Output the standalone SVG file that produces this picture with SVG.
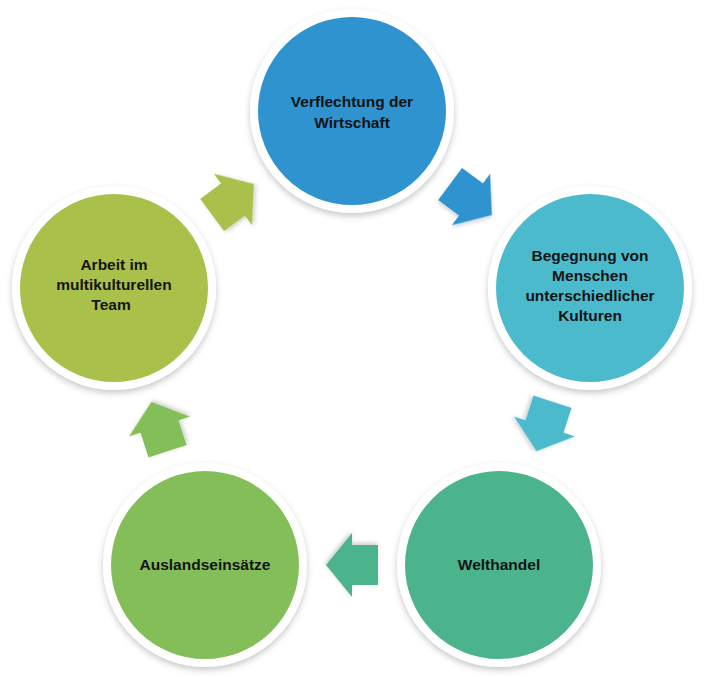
<svg xmlns="http://www.w3.org/2000/svg" width="709" height="696" viewBox="0 0 709 696">
<defs>
<filter id="sh" x="-20%" y="-20%" width="140%" height="150%">
<feDropShadow dx="0" dy="3" stdDeviation="3" flood-color="#000" flood-opacity="0.22"/>
</filter>
<filter id="ash" x="-30%" y="-30%" width="160%" height="160%">
<feDropShadow dx="1" dy="2" stdDeviation="2" flood-color="#000" flood-opacity="0.2"/>
</filter>
<path id="arrow" d="M-26,-20 L0,-20 L0,-32 L26,0 L0,32 L0,20 L-26,20 Z"/>
</defs>
<style>
.ring{stroke:#fff;stroke-width:8;filter:url(#sh)}
.lbl{font-family:"Liberation Sans",Arial,sans-serif;font-weight:bold;font-size:15.5px;fill:#141414;text-anchor:middle}
.arr{filter:url(#ash)}
</style>
<rect width="709" height="696" fill="#fff"/>
<g id="connectors">
<use href="#arrow" class="arr" fill="#2e93cf" transform="translate(471,199.5) rotate(36.6)"/>
<use href="#arrow" class="arr" fill="#4bbacc" transform="translate(544.5,426.5) rotate(108)"/>
<use href="#arrow" class="arr" fill="#4cb48d" transform="translate(352,565) rotate(180)"/>
<use href="#arrow" class="arr" fill="#84be58" transform="translate(159.5,426.5) rotate(252)"/>
<use href="#arrow" class="arr" fill="#a9c04b" transform="translate(233,199.5) rotate(-36.6)"/>
</g>
<g id="node-verflechtung">
<circle class="ring" cx="352" cy="111" r="98" fill="#2e93cf"/>
<text class="lbl" x="352" y="107">Verflechtung der</text>
<text class="lbl" x="352" y="128">Wirtschaft</text>
</g>
<g id="node-begegnung">
<circle class="ring" cx="590" cy="288" r="98" fill="#4bbacc"/>
<text class="lbl" x="590" y="261">Begegnung von</text>
<text class="lbl" x="590" y="281">Menschen</text>
<text class="lbl" x="590" y="301">unterschiedlicher</text>
<text class="lbl" x="590" y="321">Kulturen</text>
</g>
<g id="node-welthandel">
<circle class="ring" cx="499" cy="565" r="98" fill="#4cb48d"/>
<text class="lbl" x="499" y="570">Welthandel</text>
</g>
<g id="node-auslandseinsaetze">
<circle class="ring" cx="205" cy="565" r="98" fill="#84be58"/>
<text class="lbl" x="205" y="570">Auslandseinsätze</text>
</g>
<g id="node-arbeit">
<circle class="ring" cx="114" cy="288" r="98" fill="#a9c04b"/>
<text class="lbl" x="114" y="270">Arbeit im</text>
<text class="lbl" x="114" y="290">multikulturellen</text>
<text class="lbl" x="111" y="310">Team</text>
</g>
</svg>
